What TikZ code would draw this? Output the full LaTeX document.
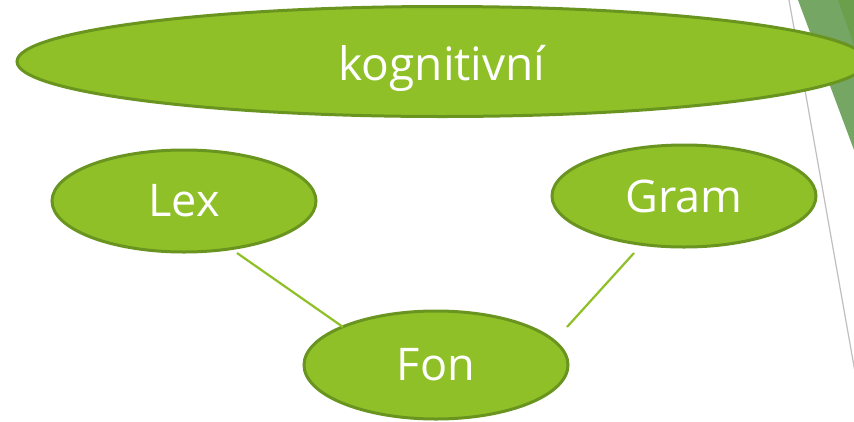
\documentclass[tikz,border=0pt]{standalone}
\usepackage{fontspec}
\setmainfont{Open Sans}
\usetikzlibrary{shapes.geometric}
\definecolor{leaf}{HTML}{8FC027}
\definecolor{leafedge}{HTML}{6A9420}
\definecolor{tri}{HTML}{76A663}
\definecolor{tridark}{HTML}{6C9F4C}
\definecolor{guide}{HTML}{BFBFBF}
\tikzset{
  bubble/.style={ellipse, fill=leaf, draw=leafedge, line width=3pt, inner sep=0pt,
    text=white, font=\fontsize{45}{54}\selectfont},
  link/.style={draw=leaf, line width=2.2pt}
}
\begin{document}
\begin{tikzpicture}[x=1pt,y=-1pt]
\clip (0,0) rectangle (854,421);
\fill[white] (0,0) rectangle (854,421);
% decoration at top right
\fill[tri] (798,0) -- (854,0) -- (854,150) -- cycle;
\fill[tridark] (838,0) -- (854,0) -- (854,45) -- cycle;
\draw[guide, line width=1.2pt] (789,0) -- (855,372);
% nodes
\node[bubble, minimum width=850pt, minimum height=110pt, text height=37pt, text depth=0pt,
  font=\fontsize{46}{54}\selectfont] (kog) at (442,61.5) {kognitivní};
\node[bubble, minimum width=264pt, minimum height=102pt] (lex) at (184,201) {Lex};
\node[bubble, minimum width=264pt, minimum height=102pt] (gram) at (684,196) {Gram};
\node[bubble, minimum width=264pt, minimum height=108pt] (fon) at (436,365) {Fon};
% connectors
\coordinate (lexfoot) at (237,253);
\coordinate (gramfoot) at (634,253);
\coordinate (fonleft) at (343,327);
\coordinate (fonright) at (567,327);
\draw[link] (lexfoot) -- (fonleft);
\draw[link] (gramfoot) -- (fonright);
\end{tikzpicture}
\end{document}
